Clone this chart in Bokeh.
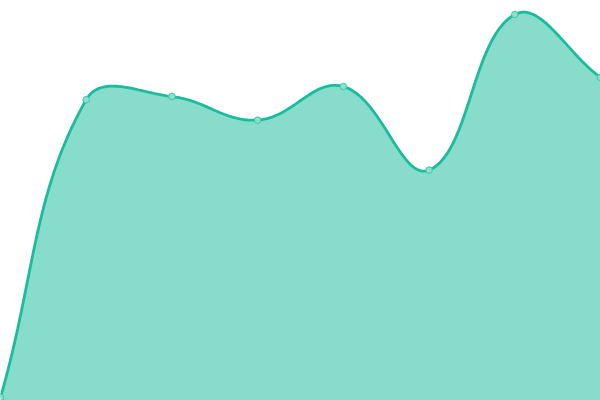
import numpy as np
from bokeh.plotting import figure
from bokeh.models import Range1d
from bokeh.embed import file_html
from bokeh.resources import INLINE

# Data
labels = ["1", "2", "3", "4", "5", "6", "7", "8"]
values = [0.75, 75.2, 76.0, 70.1, 78.5, 57.6, 96.5, 80.75]

W, H = 600, 400
X_MIN, X_MAX = 0, len(values) - 1
Y_MIN, Y_MAX = 0, 100
TENSION = 0.4

xs = np.arange(len(values), dtype=float)
ys = np.array(values, dtype=float)

# pixel-scale factors for distance weighting (Chart.js-like spline)
sx = W / (X_MAX - X_MIN)
sy = H / (Y_MAX - Y_MIN)

def control_points(xs, ys, t):
    n = len(xs)
    cps = []
    for i in range(n):
        pi = max(i - 1, 0)
        ni = min(i + 1, n - 1)
        px, py = xs[pi], ys[pi]
        cx, cy = xs[i], ys[i]
        nx, ny = xs[ni], ys[ni]
        d01 = np.hypot((cx - px) * sx, (cy - py) * sy)
        d12 = np.hypot((nx - cx) * sx, (ny - cy) * sy)
        tot = d01 + d12
        fa = t * d01 / tot if tot else 0
        fb = t * d12 / tot if tot else 0
        prev_cp = (cx - fa * (nx - px), cy - fa * (ny - py))
        next_cp = (cx + fb * (nx - px), cy + fb * (ny - py))
        prev_cp = (min(max(prev_cp[0], X_MIN), X_MAX), min(max(prev_cp[1], Y_MIN), Y_MAX))
        next_cp = (min(max(next_cp[0], X_MIN), X_MAX), min(max(next_cp[1], Y_MIN), Y_MAX))
        cps.append((prev_cp, next_cp))
    return cps

cps = control_points(xs, ys, TENSION)
cx_all, cy_all = [], []
tt = np.linspace(0, 1, 40)
for i in range(len(xs) - 1):
    p0 = np.array([xs[i], ys[i]])
    p1 = np.array(cps[i][1])
    p2 = np.array(cps[i + 1][0])
    p3 = np.array([xs[i + 1], ys[i + 1]])
    seg = ((1 - tt) ** 3)[:, None] * p0 + (3 * (1 - tt) ** 2 * tt)[:, None] * p1 \
        + (3 * (1 - tt) * tt ** 2)[:, None] * p2 + (tt ** 3)[:, None] * p3
    if i > 0:
        seg = seg[1:]
    cx_all.extend(seg[:, 0])
    cy_all.extend(seg[:, 1])

p = figure(width=W, height=H, output_backend="svg", toolbar_location=None,
           x_range=Range1d(X_MIN, X_MAX), y_range=Range1d(Y_MIN, Y_MAX),
           min_border=0)
p.axis.visible = False
p.grid.visible = False
p.outline_line_color = None
p.background_fill_color = "white"
p.border_fill_color = "white"

p.varea(x=cx_all, y1=[Y_MIN] * len(cx_all), y2=cy_all, fill_color="#1abc9c", fill_alpha=0.52)
p.line(x=cx_all, y=cy_all, line_color="#1abc9c", line_width=2.8)
p.scatter(x=xs, y=ys, size=6.5, fill_color="#8be0cf", line_color="#3cc7a9", line_width=1)

open("out.html", "w").write(file_html(p, INLINE))
